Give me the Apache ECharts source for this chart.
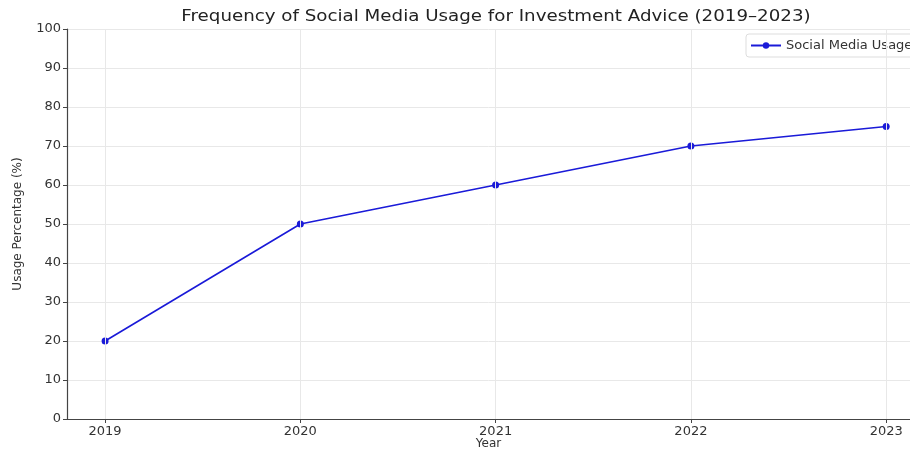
<!DOCTYPE html>
<html><head><meta charset="utf-8">
<script src="https://cdn.jsdelivr.net/npm/echarts@6/dist/echarts.min.js"></script>
<style>html,body{margin:0;padding:0;background:#fff}#c{width:910px;height:451px}</style>
</head><body><div id="c"></div>
<script>
const years = [2019, 2020, 2021, 2022, 2023];
const usage = [20, 50, 60, 70, 75];
const yTicks = [0, 10, 20, 30, 40, 50, 60, 70, 80, 90, 100];
const seriesName = 'Social Media Usage';
const titleText = 'Frequency of Social Media Usage for Investment Advice (2019\u20132023)';

const chart = echarts.init(document.getElementById('c'));
const font = 'DejaVu Sans';
const lineColor = '#1a1ad8';
chart.setOption({
  animation: false,
  backgroundColor: '#fff',
  graphic: [{
    type: 'text', x: 496, y: 17, scaleX: 1.14, scaleY: 1,
    style: {text: titleText, fontFamily: font, fontSize: 16, fill: '#222',
      align: 'center', verticalAlign: 'middle'}
  }],
  legend: {
    left: 746, top: 34, itemWidth: 30, itemHeight: 8, itemGap: 5,
    backgroundColor: '#fff', borderColor: '#ddd', borderWidth: 1, borderRadius: 3,
    padding: [5, 4, 5, 4],
    textStyle: {fontFamily: font, fontSize: 13, color: '#333'},
    data: [seriesName]
  },
  grid: {left: 67, right: 0, top: 29, bottom: 32, outerBoundsMode: 'none', containLabel: false},
  xAxis: {
    type: 'value', min: 2018.805, max: 2023.122,
    name: 'Year', nameLocation: 'middle', nameGap: 19, nameMoveOverlap: false,
    nameTextStyle: {fontFamily: font, fontSize: 12, color: '#333'},
    axisLine: {show: true, lineStyle: {color: '#444', width: 1.2}},
    axisTick: {show: true, customValues: years, length: 4, lineStyle: {color: '#444'}},
    axisLabel: {customValues: years, fontFamily: font, fontSize: 13, color: '#333', margin: 6,
      formatter: v => String(Math.round(v))},
    splitLine: {show: false}
  },
  yAxis: {
    type: 'value', min: 0, max: 100, interval: 10,
    name: 'Usage Percentage (%)', nameLocation: 'middle', nameGap: 43, nameRotate: 90,
    nameTextStyle: {fontFamily: font, fontSize: 12, color: '#333'},
    axisLine: {show: true, lineStyle: {color: '#444', width: 1.2}},
    axisTick: {show: true, length: 4, lineStyle: {color: '#444'}},
    axisLabel: {fontFamily: font, fontSize: 13, color: '#333', margin: 6},
    splitLine: {show: true, lineStyle: {color: '#e8e8e8', width: 1}}
  },
  series: [{
    name: seriesName, type: 'line',
    data: years.map((y, i) => [y, usage[i]]),
    symbol: 'circle', symbolSize: 7,
    lineStyle: {color: lineColor, width: 1.6},
    itemStyle: {color: lineColor},
    markLine: {
      silent: true, symbol: 'none', label: {show: false},
      lineStyle: {color: '#e8e8e8', type: 'solid', width: 1},
      data: years.map(y => ({xAxis: y}))
    },
    z: 3
  }]
});
</script></body></html>
